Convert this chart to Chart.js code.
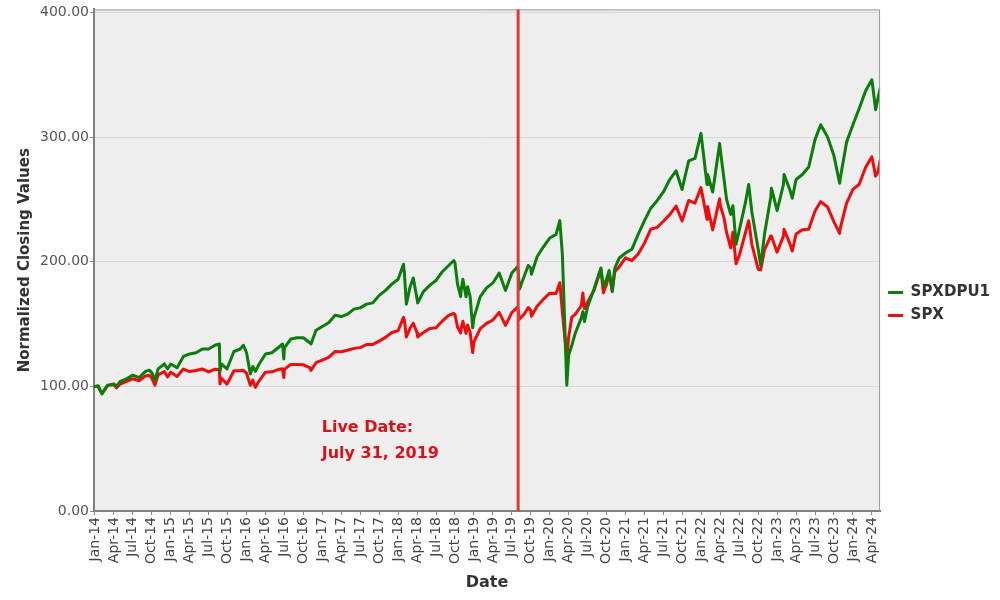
<!DOCTYPE html>
<html>
<head>
<meta charset="utf-8">
<script src="https://cdn.jsdelivr.net/npm/chart.js@4.4.1/dist/chart.umd.min.js"></script>
<style>
  html, body { margin: 0; padding: 0; background: #fff; }
  canvas { display: block; }
</style>
</head>
<body>
<canvas id="closingChart" width="1000" height="600"></canvas>
<script>
// x position = months since 1 Jan 2014 (month ends plus a few intra-month turns)
const months = [
  0, 0.5, 1.1, 2, 3, 3.4, 4, 5, 6, 7, 8, 8.6, 9, 9.5, 10, 11, 11.5, 12,
  13, 14, 15, 16, 17, 18, 19, 19.7, 19.8, 20, 20.9, 22, 23, 23.5, 24, 24.6,
  25, 25.4, 26, 27, 28, 29, 29.7, 29.9, 30, 31, 32, 33, 34, 34.2, 35, 36,
  37, 38, 39, 40, 41, 42, 43, 44, 45, 46, 47, 48, 48.85, 49, 49.3, 49.9,
  50.4, 51, 51.1, 52, 53, 54, 55, 56, 56.8, 57, 57.4, 57.9, 58, 58.25,
  58.75, 59, 59.4, 59.8, 60, 61, 62, 63, 64, 65, 66, 66.9, 67, 67.2, 68,
  68.6, 69, 69.1, 70, 71, 72, 73, 73.6, 74, 74.7, 75, 75.5, 76, 77, 77.25,
  77.5, 78, 79, 80.1, 80.5, 81, 81.4, 81.9, 82.3, 83, 84, 85, 86, 87, 88,
  89, 90, 91, 92, 92.95, 94, 95, 95.95, 96.9, 97, 97.8, 98.9, 99, 99.6,
  100, 100.65, 101, 101.5, 102, 103, 103.5, 104, 105, 105.4, 106, 107,
  107.1, 108, 109, 109.1, 110, 110.4, 111, 112, 113, 114, 114.9, 116, 117,
  117.9, 118, 119, 120, 121, 122, 123, 123.6, 124, 124.3
];

const spxdpu1 = [
  100, 100.5, 94, 101, 102, 100, 104, 106, 109, 107, 112, 113, 111, 105, 114, 118, 114, 118,
  115, 124, 126, 127, 130, 130, 133, 134, 112, 118, 114, 128, 130, 133, 127, 110,
  116, 112, 118, 126, 127, 131, 134, 122, 131, 138, 139, 139, 135, 134, 145, 148,
  151, 157, 156, 158, 162, 163, 166, 167, 173, 177, 182, 186, 198, 190, 166, 180,
  187, 170, 167, 176, 181, 185, 192, 197, 201, 199, 182, 172, 178, 186,
  172, 180, 172, 147, 155, 172, 179, 183, 191, 177, 191, 196, 193, 178, 189,
  197, 195, 190, 204, 212, 219, 222, 233, 206, 101, 125, 133, 142, 155, 160,
  152, 164, 178, 195, 180, 186, 193, 176, 195, 203, 207, 210, 222, 233, 243,
  249, 256, 266, 273, 258, 281, 283, 303, 262, 270, 256, 295, 290, 266,
  250, 238, 245, 214, 225, 248, 262, 240, 210, 197, 222, 252,
  259, 241, 262, 270, 258, 251, 266, 270, 276, 298, 310, 300, 285,
  263, 267, 296, 310, 323, 337, 346, 322, 332, 339
];

const spx = [
  100, 99.8, 94.2, 100.6, 101.3, 98.8, 101.9, 104.1, 106.1, 104.5, 108.4, 109.0, 106.7, 101.0, 109.2, 111.9, 107.6, 111.4,
  107.9, 113.9, 111.9, 112.8, 114.0, 111.6, 113.8, 113.6, 101.9, 106.7, 101.7, 112.5, 112.6, 112.9, 110.6, 100.8,
  105.0, 99.2, 104.5, 111.4, 111.7, 113.5, 114.2, 107.1, 113.6, 117.6, 117.5, 117.3, 115.0, 112.8, 119.0, 121.1,
  123.3, 127.9, 127.8, 129.0, 130.5, 131.1, 133.6, 133.7, 136.3, 139.3, 143.2, 144.6, 155.4, 152.8, 139.6, 146.8,
  150.7, 142.9, 139.7, 143.3, 146.4, 147.1, 152.4, 157.0, 158.5, 157.7, 147.6, 142.9, 146.7, 152.2,
  142.5, 149.3, 143.5, 127.2, 135.6, 146.3, 150.6, 153.3, 159.4, 148.9, 159.2, 163.7, 161.2, 153.9, 158.3,
  163.2, 161.0, 156.2, 164.3, 169.9, 174.8, 174.5, 183.2, 159.8, 122, 139.8, 155.6, 157.6, 164.7, 174.9,
  162.4, 167.7, 177.0, 193.7, 175.1, 181.9, 191.2, 176.9, 192.0, 195.9, 203.2, 200.9, 206.2, 214.9, 226.2,
  227.5, 232.5, 237.8, 244.7, 232.7, 249.2, 247.1, 259.5, 234.1, 244.3, 225.6, 250.6, 245.1, 235.0,
  223.5, 211.1, 223.6, 198.4, 204.8, 223.5, 232.9, 214.0, 194.0, 193.5, 209.5, 220.7,
  220.5, 207.7, 220.6, 226.0, 214.8, 208.6, 222.3, 225.6, 226.1, 240.8, 248.3, 243.9, 232.0,
  222.8, 226.9, 247.1, 258.1, 262.2, 275.7, 284.3, 268.7, 272.4, 281
];

const tickLabels = [
  'Jan-14', 'Apr-14', 'Jul-14', 'Oct-14', 'Jan-15', 'Apr-15', 'Jul-15', 'Oct-15',
  'Jan-16', 'Apr-16', 'Jul-16', 'Oct-16', 'Jan-17', 'Apr-17', 'Jul-17', 'Oct-17',
  'Jan-18', 'Apr-18', 'Jul-18', 'Oct-18', 'Jan-19', 'Apr-19', 'Jul-19', 'Oct-19',
  'Jan-20', 'Apr-20', 'Jul-20', 'Oct-20', 'Jan-21', 'Apr-21', 'Jul-21', 'Oct-21',
  'Jan-22', 'Apr-22', 'Jul-22', 'Oct-22', 'Jan-23', 'Apr-23', 'Jul-23', 'Oct-23',
  'Jan-24', 'Apr-24'
];
const yTicks = [0, 100, 200, 300, 400];

const liveDateMonth = 67; // 31 Jul 2019
const liveNote = ['Live Date:', 'July 31, 2019'];

Chart.defaults.font.family = "'DejaVu Sans', sans-serif";

const toPoints = vals => vals.map((v, i) => ({ x: months[i], y: v }));

// plot background, live-date marker and frame
const decor = {
  id: 'decor',
  beforeDraw(chart) {
    const { ctx, chartArea: a } = chart;
    ctx.save();
    ctx.fillStyle = '#eeeeee';
    ctx.fillRect(a.left, a.top, a.right - a.left, a.bottom - a.top);
    ctx.restore();
  },
  afterDatasetsDraw(chart) {
    const { ctx, chartArea: a, scales: { x, y } } = chart;
    ctx.save();
    ctx.strokeStyle = '#999';
    ctx.lineWidth = 1;
    ctx.beginPath();
    ctx.moveTo(a.left, a.top + 0.5);
    ctx.lineTo(a.right - 0.5, a.top + 0.5);
    ctx.lineTo(a.right - 0.5, a.bottom);
    ctx.stroke();

    const lx = x.getPixelForValue(liveDateMonth);
    ctx.strokeStyle = '#dd3b3b';
    ctx.lineWidth = 3;
    ctx.beginPath();
    ctx.moveTo(lx, a.top);
    ctx.lineTo(lx, a.bottom);
    ctx.stroke();

    ctx.fillStyle = '#d41418';
    ctx.font = "bold 16px 'DejaVu Sans'";
    ctx.textBaseline = 'alphabetic';
    const tx = x.getPixelForValue(35.9);
    const ty = y.getPixelForValue(63);
    liveNote.forEach((line, i) => ctx.fillText(line, tx, ty + i * 26));
    ctx.restore();
  }
};

const ctx = document.getElementById('closingChart').getContext('2d');

new Chart(ctx, {
  type: 'line',
  data: {
    datasets: [
      {
        label: 'SPXDPU1',
        data: toPoints(spxdpu1),
        borderColor: '#0b7d0b',
        backgroundColor: '#0b7d0b',
        borderWidth: 3,
        borderJoinStyle: 'round',
        borderCapStyle: 'round',
        pointRadius: 0,
        tension: 0,
      },
      {
        label: 'SPX',
        data: toPoints(spx),
        borderColor: '#f00c0c',
        backgroundColor: '#f00c0c',
        borderWidth: 3,
        borderJoinStyle: 'round',
        borderCapStyle: 'round',
        pointRadius: 0,
        tension: 0,
      },
    ],
  },
  options: {
    responsive: false,
    animation: false,
    devicePixelRatio: 1,
    layout: { padding: { top: 8 } },
    plugins: {
      tooltip: { enabled: false },
      legend: {
        position: 'right',
        labels: {
          boxWidth: 15,
          boxHeight: 3,
          padding: 8,
          color: '#333',
          font: { size: 15, weight: 'bold' },
          generateLabels: chart => chart.data.datasets.map((ds, i) => ({
            text: ds.label,
            fillStyle: ds.borderColor,
            strokeStyle: ds.borderColor,
            lineWidth: 0,
            hidden: false,
            datasetIndex: i,
            fontColor: '#333',
          })),
        },
      },
    },
    scales: {
      x: {
        type: 'linear',
        min: -0.15,
        max: 124.3,
        afterFit: s => { s.height = 89; },
        afterBuildTicks: s => { s.ticks = tickLabels.map((_, i) => ({ value: i * 3 })); },
        ticks: {
          autoSkip: false,
          minRotation: 90,
          maxRotation: 90,
          padding: 2,
          color: '#444',
          font: { size: 14 },
          callback: (v, i) => tickLabels[i],
        },
        grid: { drawOnChartArea: false, tickLength: 4, tickColor: '#888' },
        border: { color: '#808080', width: 2 },
        title: {
          display: true,
          text: 'Date',
          color: '#333',
          font: { size: 16, weight: 'bold' },
          padding: { top: 0, bottom: 8 },
        },
      },
      y: {
        min: 0,
        max: 402.5,
        afterFit: s => { s.width = 94; },
        afterBuildTicks: s => { s.ticks = yTicks.map(v => ({ value: v })); },
        ticks: {
          padding: 1,
          color: '#555',
          font: { size: 14 },
          callback: v => v.toFixed(2),
        },
        grid: { color: '#d8d8d8', tickLength: 4, tickColor: '#888' },
        border: { color: '#808080', width: 2 },
        title: {
          display: true,
          text: 'Normalized Closing Values',
          color: '#333',
          font: { size: 15, weight: 'bold' },
          padding: { top: 16, bottom: 0 },
        },
      },
    },
  },
  plugins: [decor],
});
</script>
</body>
</html>
